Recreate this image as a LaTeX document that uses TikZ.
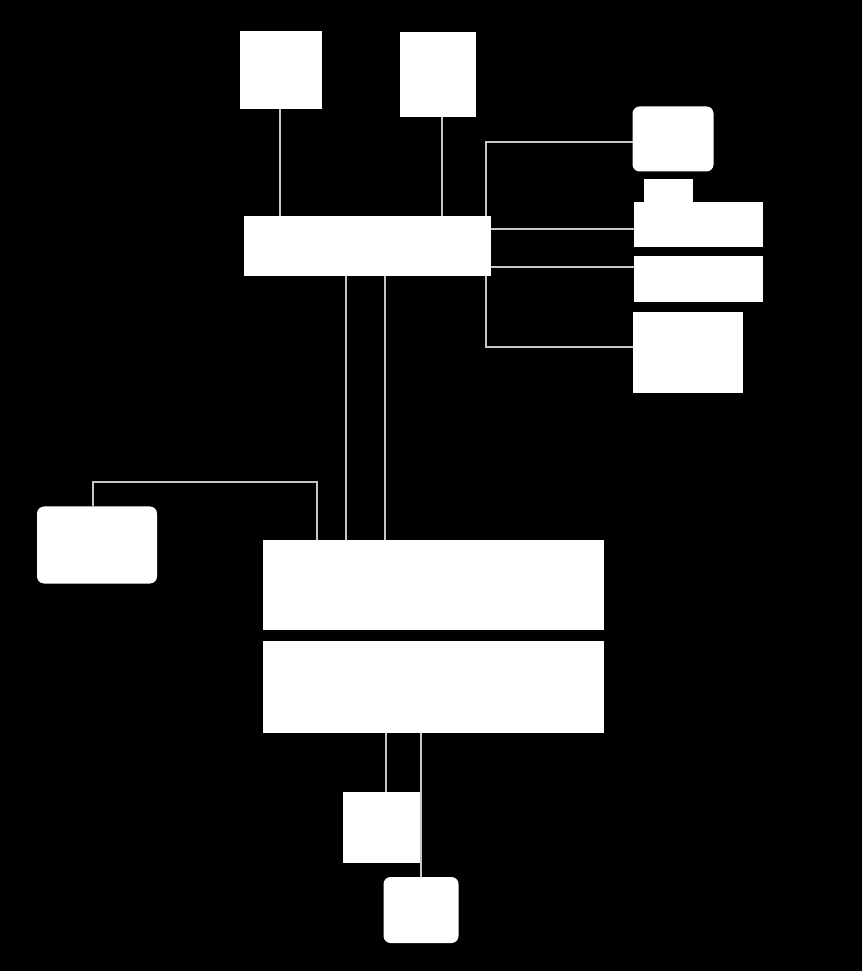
\documentclass[tikz,border=0pt]{standalone}
\usepackage{amsmath}
\usepackage{amssymb}
\usepackage{tikz}

\definecolor{wiregray}{gray}{0.78}
\tikzset{
  blk/.style={draw=none, fill=white, inner sep=0pt, outer sep=0pt},
  wire/.style={draw=wiregray, line width=0.4pt, solid}
}

\begin{document}
\begin{tikzpicture}
            \fill[black] (0.00,0.00) rectangle (8.62,-9.71);
            \useasboundingbox (0.00,0.00) rectangle (8.62,-9.71);
            % top row
            \node[blk, minimum width=0.82cm, minimum height=0.78cm] (lampa) at (2.81,-0.70) {};
            \node[blk, minimum width=0.76cm, minimum height=0.85cm] (lampb) at (4.38,-0.75) {};
            \node[blk, minimum width=2.47cm, minimum height=0.60cm] (hub) at (3.67,-2.46) {};
            % right stack
            \node[blk, minimum width=0.81cm, minimum height=0.65cm, rounded corners=2pt] (cap) at (6.73,-1.39) {};
            \node[blk, minimum width=0.49cm, minimum height=0.24cm] (tab) at (6.68,-1.91) {};
            \node[blk, minimum width=1.29cm, minimum height=0.45cm] (rowa) at (6.98,-2.25) {};
            \node[blk, minimum width=1.29cm, minimum height=0.46cm] (rowb) at (6.98,-2.79) {};
            \node[blk, minimum width=1.10cm, minimum height=0.81cm] (rowc) at (6.88,-3.53) {};
            % lower part
            \node[blk, minimum width=1.20cm, minimum height=0.77cm, rounded corners=2pt] (side) at (0.97,-5.45) {};
            \node[blk, minimum width=3.41cm, minimum height=0.90cm] (basea) at (4.33,-5.85) {};
            \node[blk, minimum width=3.41cm, minimum height=0.92cm] (baseb) at (4.33,-6.87) {};
            \node[blk, minimum width=0.78cm, minimum height=0.71cm] (foota) at (3.82,-8.27) {};
            \node[blk, minimum width=0.75cm, minimum height=0.66cm, rounded corners=2pt] (footb) at (4.21,-9.10) {};
            \coordinate (bus) at (4.86,0.00);
            \coordinate (bend) at (3.17,-4.82);
            % wires
            \draw[wire] (lampa.south -| 2.80,0) -- (hub.north -| 2.80,0);
            \draw[wire] (lampb.south -| 4.42,0) -- (hub.north -| 4.42,0);
            \draw[wire] (cap.west |- 0,-1.42) -| (bus |- hub.north);
            \draw[wire] (rowc.west |- 0,-3.47) -| (bus |- hub.south);
            \draw[wire] (hub.east |- 0,-2.29) -- (rowa.west |- 0,-2.29);
            \draw[wire] (hub.east |- 0,-2.67) -- (rowb.west |- 0,-2.67);
            \draw[wire] (side.north -| 0.93,0) |- (bend) -- (bend |- basea.north);
            \draw[wire] (hub.south -| 3.46,0) -- (basea.north -| 3.46,0);
            \draw[wire] (hub.south -| 3.85,0) -- (basea.north -| 3.85,0);
            \draw[wire] (baseb.south -| 3.86,0) -- (foota.north -| 3.86,0);
            \draw[wire] (baseb.south -| footb.north) -- (footb.north);
        \end{tikzpicture}
\end{document}
